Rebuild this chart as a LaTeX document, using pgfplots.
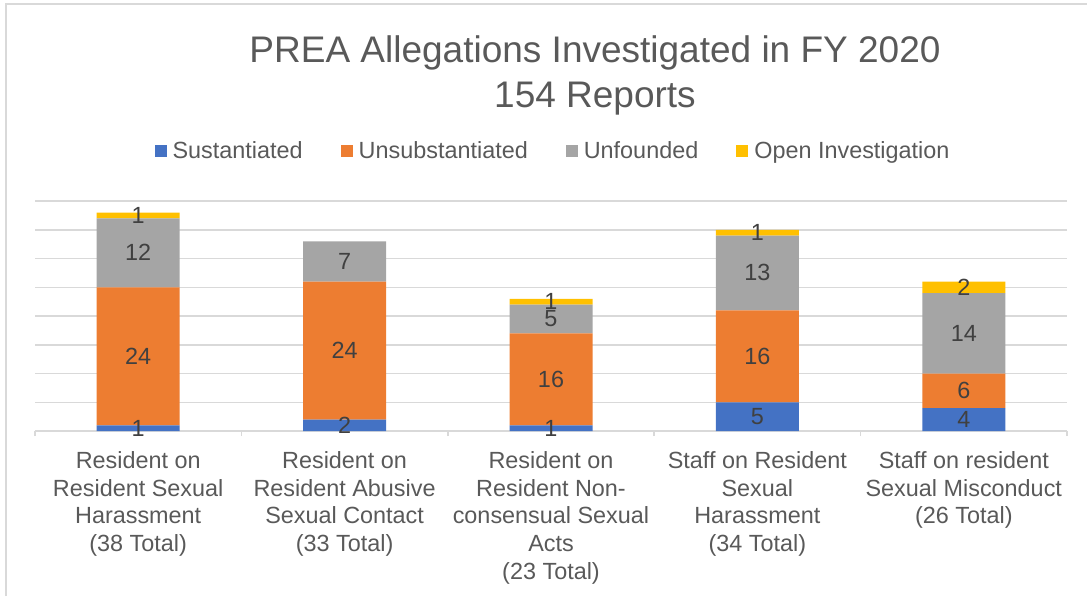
\documentclass[border=0pt]{standalone}
\usepackage{fontspec}
\setmainfont{Liberation Sans}
\usepackage{pgfplots}
\pgfplotsset{compat=1.18}
\usepackage{pgfplotstable}
\definecolor{cBlue}{HTML}{4472C4}
\definecolor{cOrange}{HTML}{ED7D31}
\definecolor{cGray}{HTML}{A5A5A5}
\definecolor{cGold}{HTML}{FFC000}
\definecolor{gridc}{HTML}{D9D9D9}
\definecolor{txt}{HTML}{595959}
\definecolor{lbl}{HTML}{404040}
\pgfplotstableread{
x sus unsub unf open
0 1 24 12 1
1 2 24 7 0
2 1 16 5 1
3 5 16 13 1
4 4 6 14 2
}\data
\pgfplotsset{
  seglabels/.style={
    visualization depends on={\thisrow{#1} \as \rawv},
  },
}
\begin{document}
\begin{tikzpicture}
\useasboundingbox (0,0) rectangle (543.5pt,298pt);
\draw[color=gridc, line width=0.75pt] (3pt,0) -- (3pt,296pt) -- (543.5pt,296pt);
\node[text=txt, align=center, font=\fontsize{18.5}{22.5}\selectfont] at (297.5pt,260.5pt)
  {PREA Allegations Investigated in FY 2020\\154 Reports};
\begin{axis}[
  at={(17.5pt,82.5pt)}, anchor=south west,
  scale only axis, width=516pt, height=115pt,
  ybar stacked, bar width=41.5pt,
  xmin=-0.5, xmax=4.5, ymin=0, ymax=40,
  axis x line*=bottom, axis y line*=left,
  x axis line style={draw=gridc, line width=0.75pt, -},
  y axis line style={draw=none},
  xtick={0,1,2,3,4},
  xticklabels={{Resident on\\Resident Sexual\\Harassment\\(38 Total)},
               {Resident on\\Resident Abusive\\Sexual Contact\\(33 Total)},
               {Resident on\\Resident Non-\\consensual Sexual\\Acts\\(23 Total)},
               {Staff on Resident\\Sexual\\Harassment\\(34 Total)},
               {Staff on resident\\Sexual Misconduct\\(26 Total)}},
  xticklabel style={align=center, text=txt, font=\fontsize{11.7}{13.85}\selectfont, yshift=-2.5pt},
  major x tick style={draw=none},
  minor xtick={-0.5,0.5,1.5,2.5,3.5,4.5},
  minor x tick style={draw=gridc, line width=0.75pt},
  minor tick length=2.5pt,
  tick align=outside,
  ytick={5,10,15,20,25,30,35,40},
  yticklabels={},
  major y tick style={draw=none},
  ymajorgrids, grid style={draw=gridc, line width=0.75pt},
  /pgf/number format/assume math mode=true,
  nodes near coords={\ifdim\rawv pt>0pt\pgfmathprintnumber{\rawv}\fi},
  every node near coord/.style={anchor=center,
      font=\fontsize{11.7}{13.85}\selectfont, text=lbl, inner sep=0pt},
  legend columns=4,
  legend style={at={(0.501,1.217)}, anchor=center, draw=none, fill=none,
    font=\fontsize{11.7}{13.85}\selectfont, text=txt,
    /tikz/every odd column/.append style={column sep=3pt},
    /tikz/every even column/.append style={column sep=19pt},
    nodes={inner sep=0pt}},
  legend image code/.code={\fill[#1] (0pt,-3pt) rectangle (6pt,3pt);},
]
\addplot[fill=cBlue, draw=none, seglabels=sus] table[x=x,y=sus] {\data};
\addlegendentry{Sustantiated}
\addplot[fill=cOrange, draw=none, seglabels=unsub] table[x=x,y=unsub] {\data};
\addlegendentry{Unsubstantiated}
\addplot[fill=cGray, draw=none, seglabels=unf] table[x=x,y=unf] {\data};
\addlegendentry{Unfounded}
\addplot[fill=cGold, draw=none, seglabels=open] table[x=x,y=open] {\data};
\addlegendentry{Open Investigation}
\end{axis}
\end{tikzpicture}
\end{document}
